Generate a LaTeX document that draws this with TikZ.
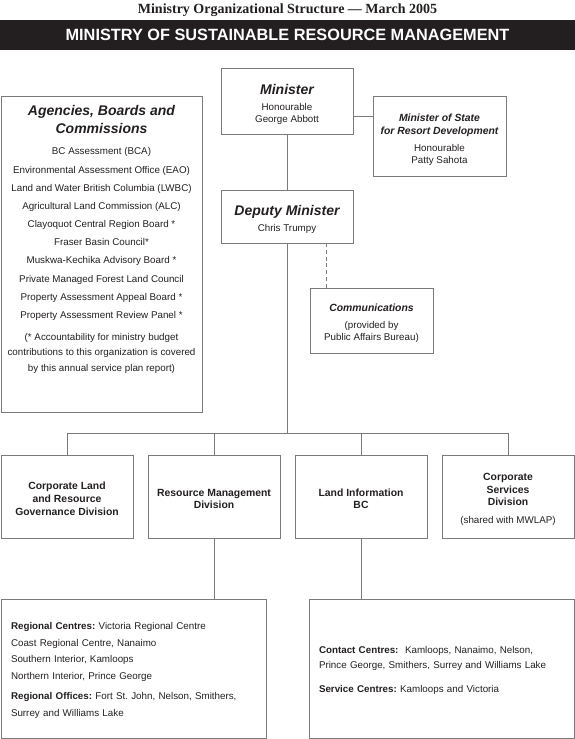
\documentclass[tikz,border=0pt]{standalone}
\usepackage{fontspec}
\setmainfont{Liberation Sans}
\newfontfamily\headserif{Liberation Serif}
\usetikzlibrary{positioning}
\definecolor{ink}{HTML}{231F20}
\definecolor{rule}{HTML}{7A7A7A}
\newcommand{\bodysize}{\fontsize{9.8}{12}\selectfont}
\newcommand{\boxhead}{\fontsize{14}{18}\selectfont\bfseries\itshape}
\newcommand{\subhead}{\fontsize{10.4}{12.5}\selectfont\bfseries\itshape}
\newcommand{\divsize}{\fontsize{10.4}{12.7}\selectfont\bfseries}
\newcommand{\lift}[1]{\rule{0pt}{#1}}
\frenchspacing
\begin{document}
\begin{tikzpicture}[x=1pt,y=-1pt,
    every node/.style={text=ink},
    unit/.style={draw=rule, line width=0.9pt, inner sep=0pt, align=center, font=\bodysize},
    division/.style={unit, minimum width=132pt, minimum height=83pt, font=\divsize},
    office/.style={unit, minimum width=265pt, minimum height=139pt, text width=245pt,
      inner xsep=10pt, align=left, font=\fontsize{9.8}{16.8}\selectfont,
      execute at begin node=\lift{11pt}},
    link/.style={draw=rule, line width=0.9pt}]
  \useasboundingbox (0,0) rectangle (575,739);

  % heading and banner
  \node[font=\fontsize{14}{16}\selectfont\headserif\bfseries, anchor=base] (heading)
    at (287.5,13) {Ministry Organizational Structure — March 2005};
  \node[fill=ink, minimum width=575pt, minimum height=30pt, inner sep=0pt, text=white,
    font=\fontsize{16.3}{18}\selectfont\bfseries] (banner)
    at (287.5,35) {MINISTRY OF SUSTAINABLE RESOURCE MANAGEMENT};

  % top of the chart
  \node[unit, minimum width=132pt, minimum height=66pt] (minister) at (287,101)
    {{\boxhead\lift{17pt}Minister}\\[4pt]Honourable\\George Abbott};
  \node[unit, minimum width=133pt, minimum height=80pt] (state) at (439.5,136)
    {{\subhead\lift{15pt}Minister of State}\\[1pt]{\subhead for Resort Development}\\[4.5pt]Honourable\\Patty Sahota};
  \node[unit, minimum width=132pt, minimum height=53pt] (deputy) at (287,216.5)
    {{\boxhead\lift{16pt}Deputy Minister}\\[4pt]Chris Trumpy};
  \node[unit, minimum width=123pt, minimum height=65pt] (comms) at (371.5,320.5)
    {{\subhead\lift{13pt}Communications}\\[5pt](provided by\\Public Affairs Bureau)};

  % agencies, boards and commissions
  \node[unit, minimum width=201pt, minimum height=316pt] (agencies) at (101.5,254) {};
  \node[below=9.5pt of agencies.north, inner sep=0pt, align=center,
    font=\fontsize{9.8}{18.2}\selectfont] (agencylist)
    {{\boxhead Agencies, Boards and}\\{\boxhead Commissions}\\[3pt]
     BC Assessment (BCA)\\
     Environmental Assessment Office (EAO)\\
     Land and Water British Columbia (LWBC)\\
     Agricultural Land Commission (ALC)\\
     Clayoquot Central Region Board *\\
     Fraser Basin Council*\\
     Muskwa-Kechika Advisory Board *\\
     Private Managed Forest Land Council\\
     Property Assessment Appeal Board *\\
     Property Assessment Review Panel *\\[3.5pt]
     (* Accountability for ministry budget\\[-2.6pt]
     contributions to this organization is covered\\[-2.6pt]
     by this annual service plan report)};

  % divisions
  \node[division] (cld) at (67,496.5) {\lift{12pt}Corporate Land\\and Resource\\Governance Division};
  \node[division] (rmd) at (214,496.5) {\lift{12pt}Resource Management\\Division};
  \node[division] (lib) at (361,496.5) {\lift{12pt}Land Information\\BC};
  \node[division] (csd) at (508,496.5)
    {\lift{13pt}Corporate\\Services\\Division\\[5pt]{\bodysize\mdseries (shared with MWLAP)}};

  % regional offices
  \node[office] (offices) at (133.5,668.5)
    {\textbf{Regional Centres:} Victoria Regional Centre\\
     Coast Regional Centre, Nanaimo\\
     Southern Interior, Kamloops\\
     Northern Interior, Prince George\\[3.5pt]
     \textbf{Regional Offices:} Fort St. John, Nelson, Smithers,\\
     Surrey and Williams Lake};
  \node[office] (centres) at (441.5,668.5)
    {\textbf{Contact Centres:}\ \ Kamloops, Nanaimo, Nelson,\\[-1.8pt]
     Prince George, Smithers, Surrey and Williams Lake\\[6.5pt]
     \textbf{Service Centres:} Kamloops and Victoria};

  % connectors
  \coordinate (statelink) at ([yshift=20pt]state.west);
  \coordinate (commslink) at ([xshift=17pt]comms.north west);
  \coordinate (branch) at (deputy.south |- 0,433);
  \draw[link] (minister) -- (deputy);
  \draw[link] (statelink) -- (statelink -| minister.east);
  \draw[link, dash pattern=on 4pt off 2.7pt] (commslink) -- (commslink |- deputy.south);
  \draw[link] (deputy) -- (branch);
  \draw[link] (cld.north |- branch) -- (csd.north |- branch);
  \foreach \d in {cld,rmd,lib,csd}
    \draw[link] (\d.north |- branch) -- (\d.north);
  \draw[link] (rmd.south) -- (rmd.south |- offices.north);
  \draw[link] (lib.south) -- (lib.south |- centres.north);
\end{tikzpicture}
\end{document}
